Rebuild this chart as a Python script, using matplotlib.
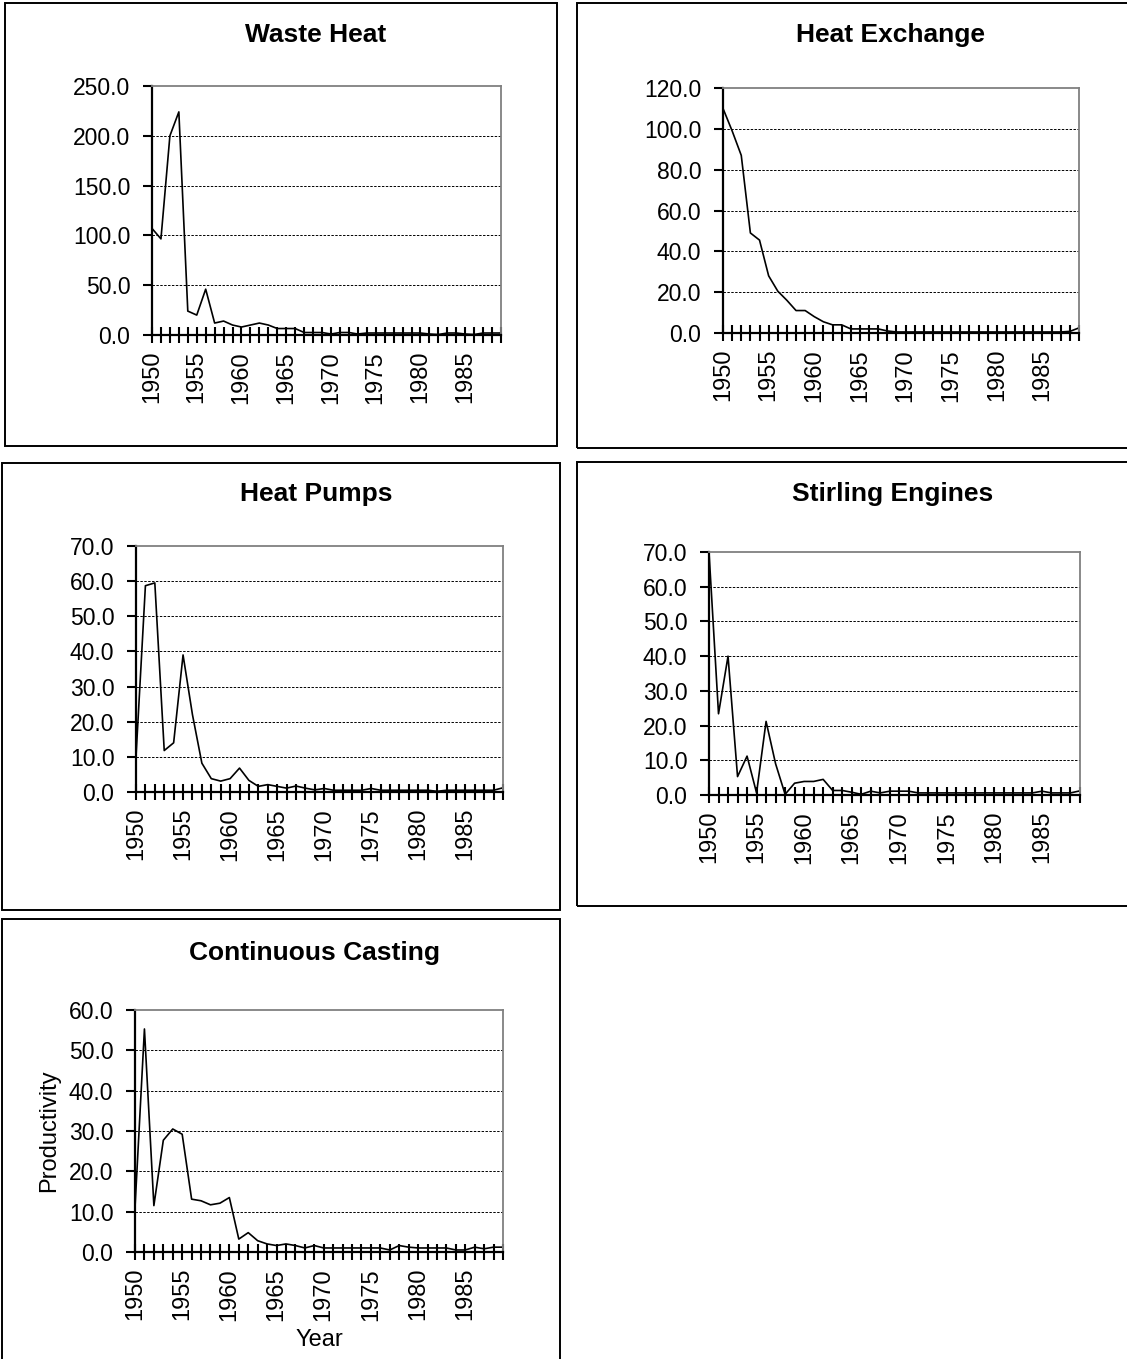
import matplotlib
matplotlib.use('Agg')
import matplotlib.pyplot as plt
from matplotlib.patches import Rectangle

plt.rcParams['font.family'] = ['Liberation Sans', 'DejaVu Sans']

W = 1127
H = 1359

years = list(range(1950, 1990))

waste_heat = [107, 96.5, 200, 224, 24, 20, 46, 12, 14, 10,
              8, 10, 12, 10, 6.5, 6.5, 6.5, 2.5, 2.5, 2.5,
              1, 2.5, 2.5, 1, 2, 2, 2, 2, 2, 2,
              2, 1, 0.5, 2, 2, 1, 0.5, 2, 2, 2]
heat_exchange = [110, 99, 87, 49, 45.5, 28, 20.5, 16, 11, 11,
                 8, 5.5, 4, 4, 2, 2, 2, 2, 1, 0.5,
                 0.5, 0.5, 0.5, 0.5, 0.5, 0.5, 0.5, 0.5, 0.5, 0.5,
                 0.5, 0.5, 0.5, 0.5, 0.5, 0.5, 0.5, 0.5, 0.8, 2.5]
heat_pumps = [10, 58.7, 59.5, 11.8, 14, 39, 22, 8.2, 3.8, 3.1,
              3.8, 6.8, 3.3, 1.6, 2.1, 1.6, 1.1, 1.7, 1.1, 0.6,
              1.0, 0.5, 0.5, 0.5, 0.5, 1.0, 0.5, 0.5, 0.5, 0.5,
              0.5, 0.5, 0.2, 0.5, 0.5, 0.5, 0.5, 0.5, 0.5, 1.2]
stirling = [70, 23.4, 40, 5.3, 11.2, 0.6, 21.2, 9, 0.2, 3.4,
            3.9, 3.9, 4.5, 1.3, 1.3, 0.8, 0.2, 1.1, 0.6, 1.1,
            1.1, 1.1, 0.6, 0.6, 0.6, 0.6, 0.6, 0.6, 0.6, 0.6,
            0.6, 0.6, 0.6, 0.6, 0.6, 1.1, 0.6, 0.6, 0.6, 1.2]
casting = [11, 55.3, 11.5, 27.7, 30.5, 29.2, 13.1, 12.7, 11.7, 12.1,
           13.5, 3.2, 4.8, 2.8, 2.0, 1.6, 2.0, 1.6, 1.0, 1.6,
           1.0, 1.0, 1.0, 1.0, 1.0, 1.0, 1.0, 0.5, 1.6, 1.2,
           1.0, 1.0, 1.0, 1.0, 0.5, 0.5, 1.2, 0.8, 1.2, 1.2]

titles = ['Waste Heat', 'Heat Exchange', 'Heat Pumps', 'Stirling Engines', 'Continuous Casting']
series = [waste_heat, heat_exchange, heat_pumps, stirling, casting]
ymax = [250, 120, 70, 70, 60]
ystep = [50, 20, 10, 10, 10]

# pixel boxes: axes (left, top, right, bottom), frame box, title centre
axes_px = [(152, 86, 501, 335), (723, 88, 1079, 333), (136, 546, 503, 792),
           (709, 552, 1080, 795), (135, 1010, 503, 1252)]
frame_px = [(5, 3, 557, 446), (577, 3, 1140, 448), (2, 463, 560, 910),
            (577, 462, 1140, 906), (2, 919, 560, 1380)]
title_px = [(316, 35), (890, 35), (316, 494), (893, 494), (315, 953)]

fig = plt.figure(figsize=(W / 100, H / 100), dpi=100)

for (l, t, r, b) in frame_px:
    fig.patches.append(Rectangle((l / W, 1 - b / H), (r - l) / W, (b - t) / H,
                                 transform=fig.transFigure, fill=False,
                                 edgecolor='black', linewidth=1.4))

for i in range(5):
    l, t, r, b = axes_px[i]
    ax = fig.add_axes([l / W, 1 - b / H, (r - l) / W, (b - t) / H])
    ax.plot(years, series[i], color='black', linewidth=1.2, zorder=3)
    ax.set_xlim(1950, 1989)
    ax.set_ylim(0, ymax[i])
    yt = list(range(0, ymax[i] + 1, ystep[i]))
    ax.set_yticks(yt)
    ax.set_yticklabels(['%.1f' % v for v in yt], fontsize=16.5)
    ax.set_xticks(years)
    ax.set_xticklabels([str(y) if (y - 1950) % 5 == 0 else '' for y in years],
                       rotation=90, fontsize=17)
    ax.tick_params(axis='x', direction='inout', length=11, width=1.5, pad=6)
    ax.tick_params(axis='y', direction='out', length=6.5, width=1.5, pad=9)
    for y in yt[1:-1]:
        ax.axhline(y, color='black', linewidth=0.7, linestyle=(0, (2.5, 1.5)), zorder=1)
    ax.spines['left'].set_linewidth(1.6)
    ax.spines['bottom'].set_linewidth(1.6)
    ax.spines['top'].set_color('#808080')
    ax.spines['right'].set_color('#808080')
    ax.spines['top'].set_linewidth(1.3)
    ax.spines['right'].set_linewidth(1.3)
    for s in ax.spines.values():
        s.set_zorder(4)
    tx, ty = title_px[i]
    fig.text(tx / W, 1 - ty / H, titles[i], fontsize=19, fontweight='bold',
             ha='center', va='center')
    if i == 4:
        ax.set_ylabel('Productivity', fontsize=17, labelpad=6)
        ax.set_xlabel('Year', fontsize=17, labelpad=6)

fig.savefig('out.png', dpi=100)
